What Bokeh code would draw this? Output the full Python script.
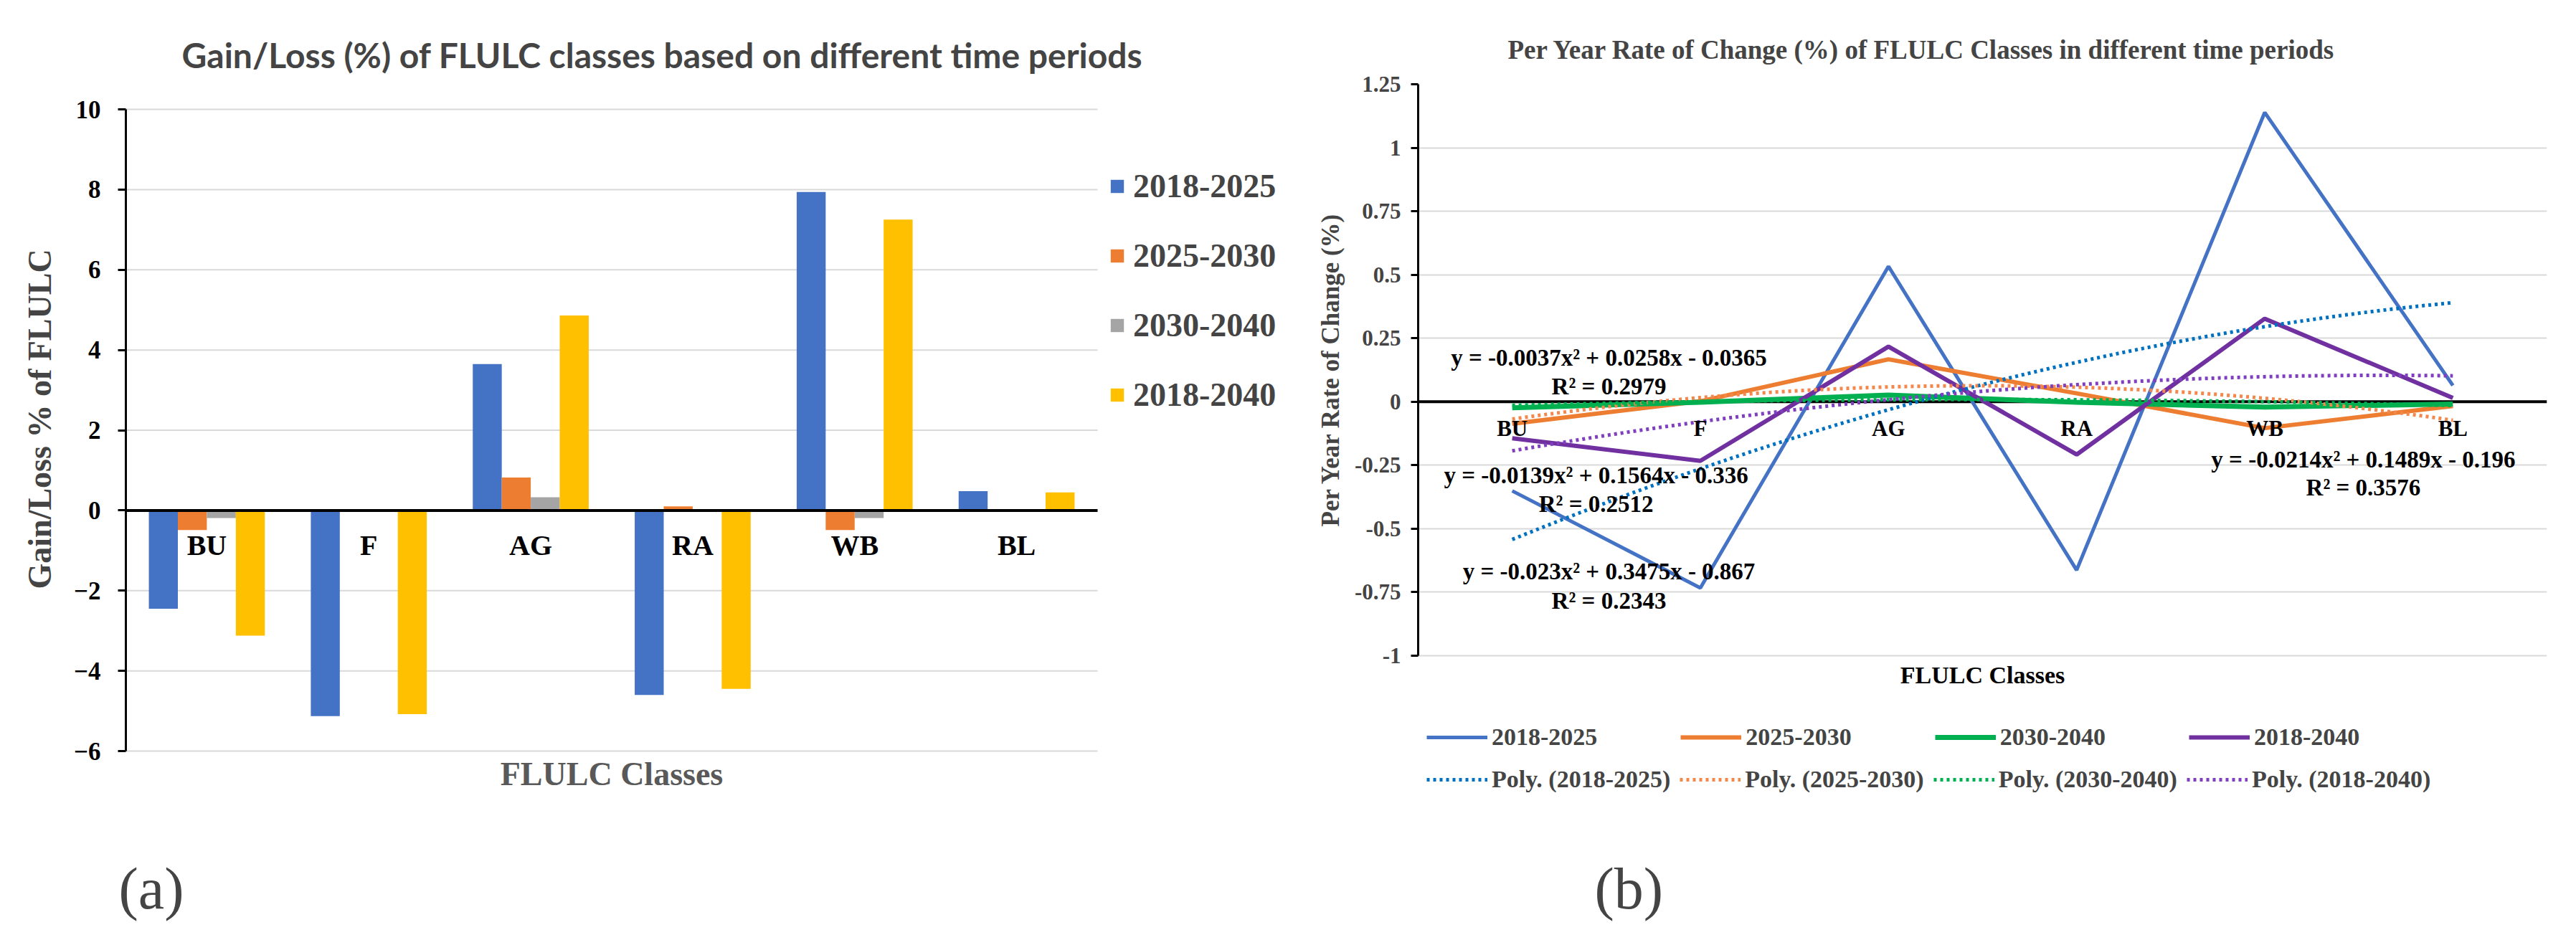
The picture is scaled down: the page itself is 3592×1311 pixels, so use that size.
import numpy as np
from bokeh.plotting import figure
from bokeh.models import (ColumnDataSource, Legend, LegendItem, Span, Label, FixedTicker, Title)
from bokeh.layouts import row
from bokeh.transform import dodge
from bokeh.core.properties import value
from bokeh.embed import file_html
from bokeh.resources import INLINE

# ---------------- data ----------------
categories = ["BU", "F", "AG", "RA", "WB", "BL"]
periods = ["2018-2025", "2025-2030", "2030-2040", "2018-2040"]

# (a) Gain/Loss (%)
gain_2018_2025 = [-2.45, -5.13, 3.65, -4.60, 7.94, 0.48]
gain_2025_2030 = [-0.49, -0.01, 0.82, 0.10, -0.49, -0.02]
gain_2030_2040 = [-0.19, -0.01, 0.33, -0.01, -0.19, 0.01]
gain_2018_2040 = [-3.12, -5.08, 4.86, -4.45, 7.25, 0.45]
left_ticks = [-6, -4, -2, 0, 2, 4, 6, 8, 10]

# (b) Per year rate of change (%)
rate_2018_2025 = [-0.351, -0.733, 0.533, -0.663, 1.139, 0.064]
rate_2025_2030 = [-0.087, 0.002, 0.167, 0.033, -0.104, -0.017]
rate_2030_2040 = [-0.024, -0.002, 0.026, -0.002, -0.021, -0.009]
rate_2018_2040 = [-0.144, -0.233, 0.217, -0.208, 0.327, 0.015]
right_ticks = [-1.0, -0.75, -0.5, -0.25, 0.0, 0.25, 0.5, 0.75, 1.0, 1.25]
right_tick_labels = ["-1", "-0.75", "-0.5", "-0.25", "0", "0.25", "0.5", "0.75", "1", "1.25"]

# polynomial (order 2) trendlines as printed on the chart: a, b, c and R²
poly_2018_2025 = [-0.023, 0.3475, -0.867]
poly_2025_2030 = [-0.0214, 0.1489, -0.196]
poly_2030_2040 = [-0.0037, 0.0258, -0.0365]
poly_2018_2040 = [-0.0139, 0.1564, -0.336]
r2_values = {"2018-2025": "0.2343", "2025-2030": "0.3576", "2030-2040": "0.2979", "2018-2040": "0.2512"}

# ---------------- styling / layout ----------------
SERIF = "Liberation Serif"
bar_colors = ["#4472C4", "#ED7D31", "#A5A5A5", "#FFC000"]
line_colors = ["#4472C4", "#ED7D31", "#00B050", "#7030A0"]
trend_colors = ["#0070C0", "#F4874B", "#00B050", "#7F3FBF"]
GRID = "#D9D9D9"

H = 1305
TOP = 117                 # common frame top (frames of a row are aligned)
FRAME_H = 993             # common frame height (legends live inside the frames)
BOTTOM = H - TOP - FRAME_H
left_lo, left_hi = -6, 10
left_px = 55.9375                     # px per unit of chart (a)
right_lo, right_hi = -1.0, 1.25
right_px = 354.2                      # px per unit of chart (b)
left_cat_lo, left_cat_hi = 0.5, 6.5   # category extent of chart (a)
left_extra = (1795 - 1530) / 225.84   # room at the right of chart (a) for its legend


def spacer(px):
    return Title(text=" ", text_font_size="1px", standoff=px)


# ================= (a) bar chart =================
src1 = ColumnDataSource(dict(x=list(range(1, len(categories) + 1)), cat=categories,
                             s0=gain_2018_2025, s1=gain_2025_2030,
                             s2=gain_2030_2040, s3=gain_2018_2040))

W1 = 1798
p1 = figure(width=W1, height=H, x_range=(left_cat_lo, left_cat_hi + left_extra),
            y_range=(left_lo - (FRAME_H - 35 - 895) / left_px, left_hi + 35 / left_px),
            output_backend="svg", toolbar_location=None, x_axis_location=None,
            min_border_left=175, min_border_right=3, min_border_top=TOP,
            min_border_bottom=BOTTOM)
p1.outline_line_color = None
p1.xgrid.visible = False
p1.ygrid.visible = False

p1.title.text = "Gain/Loss (%) of FLULC classes based on different time periods"
p1.title.text_font = "Lato"
p1.title.text_font_style = "bold"
p1.title.text_font_size = "48px"
p1.title.align = "left"
p1.title.offset = 78
p1.title.standoff = 26

# horizontal grid lines across the category area only
grid_ticks = [t for t in left_ticks if t != 0]
p1.segment(x0=[left_cat_lo] * len(grid_ticks), x1=[left_cat_hi] * len(grid_ticks),
           y0=grid_ticks, y1=grid_ticks, line_color=GRID, line_width=2)

bw = 0.179
offsets = [-1.5 * bw, -0.5 * bw, 0.5 * bw, 1.5 * bw]
bar_renderers = []
for i, key in enumerate(["s0", "s1", "s2", "s3"]):
    r = p1.vbar(x=dodge("x", offsets[i], range=p1.x_range), top=key, width=bw,
                fill_color=bar_colors[i], line_color=None, source=src1)
    bar_renderers.append(r)

# zero line
p1.segment(x0=[left_cat_lo], x1=[left_cat_hi], y0=[0], y1=[0], line_color="black", line_width=4)

p1.text(x="x", y=0, text="cat", source=src1, text_font=value(SERIF),
        text_font_style="bold", text_font_size="40px", text_align="center",
        text_baseline="middle", y_offset=49, text_color="black")

p1.add_layout(Label(x=(left_cat_lo + left_cat_hi) / 2, y=left_lo, y_offset=-32,
                    text="FLULC Classes", text_align="center", text_baseline="middle",
                    text_font=SERIF, text_font_style="bold", text_font_size="46px",
                    text_color="#595959"))

p1.yaxis.ticker = FixedTicker(ticks=left_ticks)
p1.yaxis.bounds = (left_lo, left_hi)
p1.yaxis.axis_line_width = 3
p1.yaxis.axis_line_color = "black"
p1.yaxis.major_tick_out = 11
p1.yaxis.major_tick_in = 0
p1.yaxis.major_tick_line_width = 3
p1.yaxis.minor_tick_line_color = None
p1.yaxis.major_label_text_font = SERIF
p1.yaxis.major_label_text_font_style = "bold"
p1.yaxis.major_label_text_font_size = "35px"
p1.yaxis.major_label_text_color = "black"
p1.yaxis.major_label_standoff = 24

p1.add_layout(Title(text="Gain/Loss % of FLULC", align="left", offset=289, standoff=40,
                    text_font=SERIF, text_font_style="bold", text_font_size="46px"), "left")

leg1 = Legend(items=[LegendItem(label=periods[i], renderers=[bar_renderers[i]]) for i in range(4)],
              location=(1371, 533), orientation="vertical",
              label_text_font=SERIF, label_text_font_style="bold", label_text_font_size="46px",
              glyph_width=23, glyph_height=23, label_height=50, spacing=44,
              padding=0, margin=0, border_line_color=None, background_fill_alpha=0,
              label_standoff=11)
p1.add_layout(leg1)

p1.add_layout(spacer(78), "below")
p1.add_layout(Title(text="(a)", align="left", offset=-10, standoff=0, text_font=SERIF,
                    text_font_style="normal", text_font_size="82px"), "below")

# ================= (b) line chart =================
src2 = ColumnDataSource(dict(x=list(range(1, len(categories) + 1)), cat=categories,
                             s0=rate_2018_2025, s1=rate_2025_2030,
                             s2=rate_2030_2040, s3=rate_2018_2040))

W2 = 1792
p2 = figure(width=W2, height=H, x_range=(0.5, 6.5),
            y_range=(right_lo - (FRAME_H - 797) / right_px, right_hi),
            output_backend="svg", toolbar_location=None, x_axis_location=None,
            min_border_left=179, min_border_right=W2 - 179 - 1574, min_border_top=TOP,
            min_border_bottom=BOTTOM)
p2.outline_line_color = None
p2.xgrid.visible = False
p2.ygrid.grid_line_color = GRID
p2.ygrid.grid_line_width = 2
p2.ygrid.bounds = (right_lo, right_hi)

p2.title.text = "Per Year Rate of Change (%) of FLULC Classes in different time periods"
p2.title.text_font = SERIF
p2.title.text_font_style = "bold"
p2.title.text_font_size = "37px"
p2.title.align = "left"
p2.title.offset = 125
p2.title.standoff = 56

p2.add_layout(Span(location=0, dimension="width", line_color="black", line_width=4, level="underlay"))

line_widths = [5, 6, 7, 6]
line_renderers = []
for i, key in enumerate(["s0", "s1", "s2", "s3"]):
    r = p2.line(x="x", y=key, source=src2, line_color=line_colors[i], line_width=line_widths[i])
    line_renderers.append(r)

trend_renderers = []
xs = np.linspace(1, len(categories), 101)
for i, coef in enumerate([poly_2018_2025, poly_2025_2030, poly_2030_2040, poly_2018_2040]):
    r = p2.line(x=xs, y=np.polyval(coef, xs), line_color=trend_colors[i], line_width=5,
                line_dash="4 5")
    trend_renderers.append(r)

p2.text(x="x", y=0, text="cat", source=src2, text_font=value(SERIF),
        text_font_style="bold", text_font_size="31px", text_align="center",
        text_baseline="middle", y_offset=37, text_color="black")


def eq_text(coef):
    a, b, c = coef
    sb = "+" if b >= 0 else "-"
    sc = "+" if c >= 0 else "-"
    return f"y = {a:g}x\u00b2 {sb} {abs(b):g}x {sc} {abs(c):g}"


eq_layout = [  # (series index, x, y of equation line, y of R² line)
    (2, 1.514, 0.172, 0.059),
    (3, 1.446, -0.291, -0.404),
    (0, 1.514, -0.669, -0.783),
    (1, 5.524, -0.228, -0.339),
]
coefs = [poly_2018_2025, poly_2025_2030, poly_2030_2040, poly_2018_2040]
for idx, ex, ey, ry in eq_layout:
    for txt, yy in [(eq_text(coefs[idx]), ey), ("R\u00b2 = " + r2_values[periods[idx]], ry)]:
        p2.add_layout(Label(x=ex, y=yy, text=txt, text_align="center", text_baseline="middle",
                            text_font=SERIF, text_font_style="bold", text_font_size="33px",
                            text_color="black"))

p2.add_layout(Label(x=3.5, y=right_lo, y_offset=-27, text="FLULC Classes", text_align="center",
                    text_baseline="middle", text_font=SERIF, text_font_style="bold",
                    text_font_size="34px", text_color="black"))

p2.yaxis.ticker = FixedTicker(ticks=right_ticks)
p2.yaxis.bounds = (right_lo, right_hi)
p2.yaxis.major_label_overrides = dict(zip(right_ticks, right_tick_labels))
p2.yaxis.axis_line_width = 3
p2.yaxis.axis_line_color = "black"
p2.yaxis.major_tick_out = 10
p2.yaxis.major_tick_in = 0
p2.yaxis.major_tick_line_width = 3
p2.yaxis.minor_tick_line_color = None
p2.yaxis.major_label_text_font = SERIF
p2.yaxis.major_label_text_font_style = "bold"
p2.yaxis.major_label_text_font_size = "31px"
p2.yaxis.major_label_standoff = 14

p2.add_layout(Title(text="Per Year Rate of Change (%)", align="left", offset=376, standoff=21,
                    text_font=SERIF, text_font_style="bold", text_font_size="35px"), "left")

common = dict(orientation="horizontal", label_text_font=SERIF, label_text_font_style="bold",
              label_text_font_size="34px", glyph_width=85, glyph_height=38, label_height=38,
              padding=0, margin=0, border_line_color=None, background_fill_alpha=0,
              label_standoff=6)
leg2a = Legend(items=[LegendItem(label=periods[i], renderers=[line_renderers[i]]) for i in range(4)],
               location=(12, 63), spacing=116, **common)
leg2b = Legend(items=[LegendItem(label=f"Poly. ({periods[i]})", renderers=[trend_renderers[i]])
                      for i in range(4)],
               location=(12, 4), spacing=13, **common)
p2.add_layout(leg2a)
p2.add_layout(leg2b)

p2.add_layout(spacer(78), "below")
p2.add_layout(Title(text="(b)", align="left", offset=246, standoff=0, text_font=SERIF,
                    text_font_style="normal", text_font_size="82px"), "below")

layout = row(p1, p2)
open("out.html", "w").write(file_html(layout, INLINE))
